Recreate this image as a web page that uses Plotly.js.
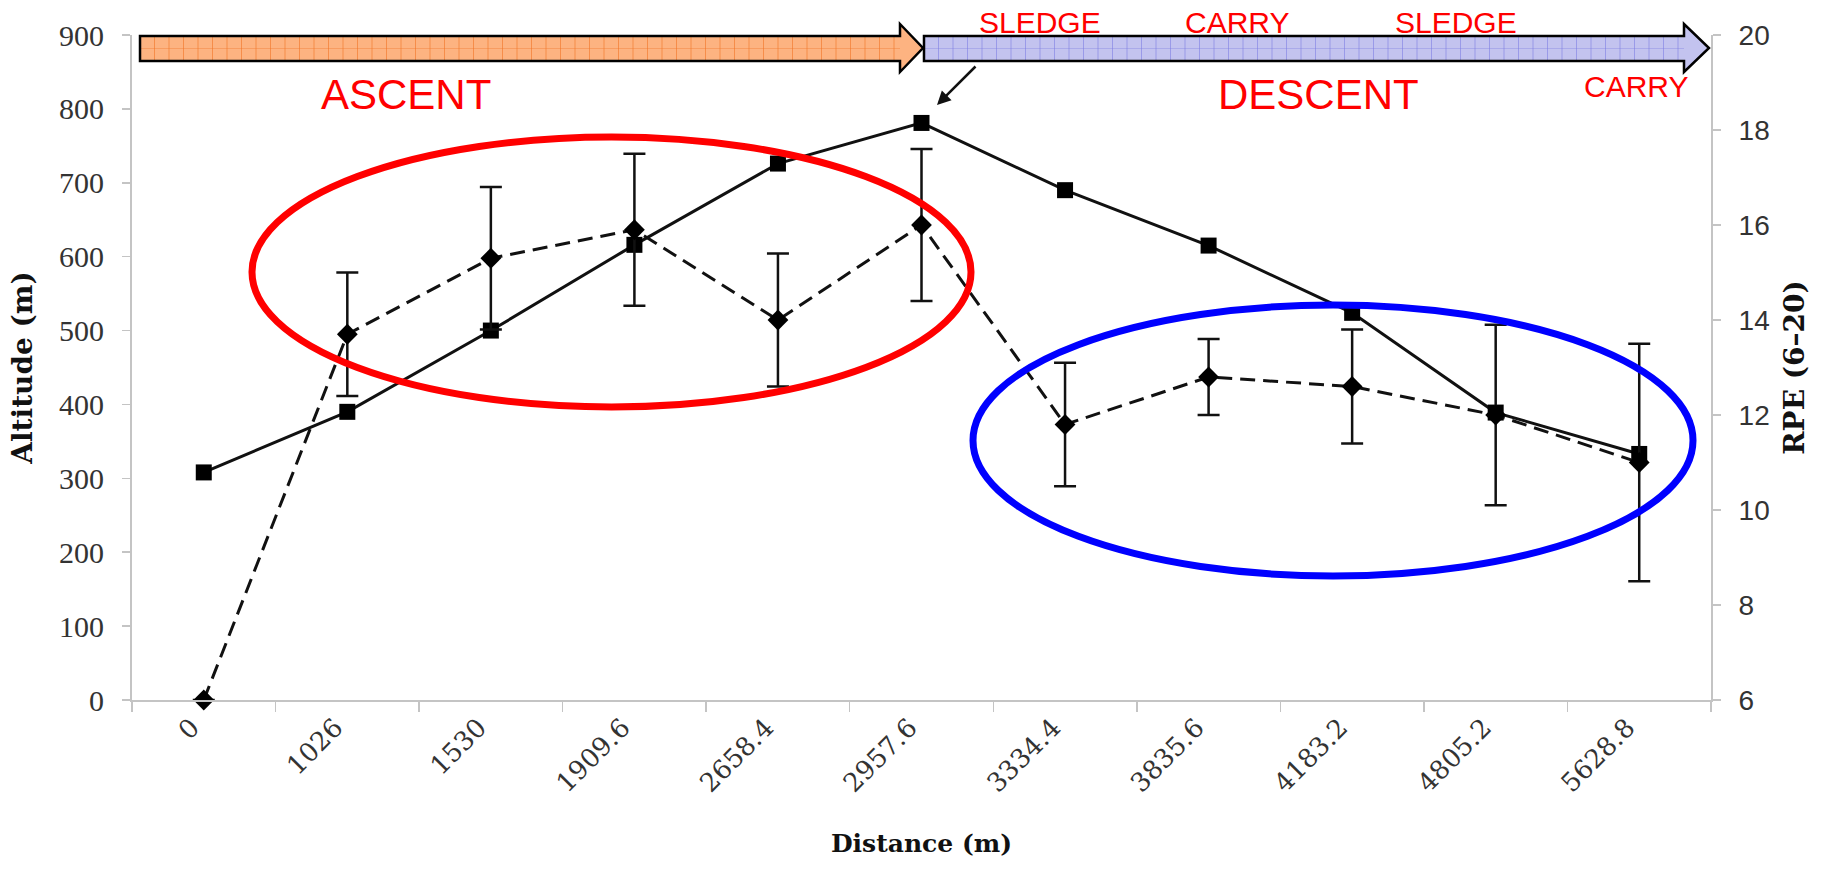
<!DOCTYPE html>
<html>
<head>
<meta charset="utf-8">
<script src="https://cdn.plot.ly/plotly-3.0.1.min.js"></script>
<style>html,body{margin:0;padding:0;background:#fff;}#chart{width:1827px;height:869px;}</style>
</head>
<body>
<div id="chart"></div>
<script>
// ---- data ----
const distanceLabels = ['0','1026','1530','1909.6','2658.4','2957.6','3334.4','3835.6','4183.2','4805.2','5628.8'];
const altitude = [308, 390, 500, 616, 726, 781, 690, 615, 524, 389, 333];
const rpe = [6, 13.7, 15.3, 15.9, 14.0, 16.0, 11.8, 12.8, 12.6, 12.0, 11.0];
const rpeErr = [0, 1.3, 1.5, 1.6, 1.4, 1.6, 1.3, 0.8, 1.2, 1.9, 2.5];
const phaseLabels = ['ASCENT', 'DESCENT'];
const modeLabels = ['SLEDGE', 'CARRY', 'SLEDGE', 'CARRY'];

// ---- geometry helpers (pixel -> paper) ----
const W = 1827, H = 869;
const L = 132, R = 1711, T = 35, B = 700;
const px = x => (x - L) / (R - L);
const py = y => (B - y) / (B - T);

const traces = [
  {
    x: distanceLabels, y: altitude, type: 'scatter', mode: 'lines+markers',
    name: 'Altitude', yaxis: 'y',
    line: {color: '#111', width: 3},
    marker: {symbol: 'square', size: 16, color: '#000'},
    cliponaxis: false
  },
  {
    x: distanceLabels, y: rpe, type: 'scatter', mode: 'lines+markers',
    name: 'RPE', yaxis: 'y2',
    line: {color: '#111', width: 3, dash: '15px,8px'},
    marker: {symbol: 'diamond', size: 16, color: '#000'},
    error_y: {type: 'data', array: rpeErr, visible: true, color: '#111', thickness: 2.5, width: 11},
    cliponaxis: false
  }
];

// ---- decorative arrows at the top ----
function arrowPath(x0, xh, xt, yb1, yb2, yh1, yh2) {
  const ym = (yh1 + yh2) / 2;
  const pts = [[x0,yb1],[xh,yb1],[xh,yh1],[xt,ym],[xh,yh2],[xh,yb2],[x0,yb2]];
  return 'M ' + pts.map(p => px(p[0]).toFixed(5) + ',' + py(p[1]).toFixed(5)).join(' L ') + ' Z';
}
const shapes = [];
function addArrow(x0, xh, xt, fill, gridColor) {
  shapes.push({type: 'path', xref: 'paper', yref: 'paper', path: arrowPath(x0, xh, xt, 36, 61, 24, 72),
               fillcolor: fill, line: {color: 'rgba(0,0,0,0)', width: 0}, layer: 'above'});
  for (let gx = x0 + 14.5; gx < xh; gx += 14.5) {
    shapes.push({type: 'line', xref: 'paper', yref: 'paper', x0: px(gx), x1: px(gx), y0: py(37), y1: py(60),
                 line: {color: gridColor, width: 1}, layer: 'above'});
  }
  shapes.push({type: 'line', xref: 'paper', yref: 'paper', x0: px(x0), x1: px(xh), y0: py(48.5), y1: py(48.5),
               line: {color: gridColor, width: 0.6}, layer: 'above'});
  shapes.push({type: 'path', xref: 'paper', yref: 'paper', path: arrowPath(x0, xh, xt, 36, 61, 24, 72),
               fillcolor: 'rgba(0,0,0,0)', line: {color: '#000', width: 2.5}, layer: 'above'});
}
addArrow(140, 900, 923, '#FDB381', 'rgba(240,110,30,0.55)');
addArrow(924, 1684, 1709, '#C3C3EF', 'rgba(120,120,225,0.55)');

// ---- ellipses ----
shapes.push({type: 'circle', xref: 'paper', yref: 'paper', x0: px(252), x1: px(971), y0: py(407), y1: py(137),
             line: {color: '#FF0000', width: 7}, fillcolor: 'rgba(0,0,0,0)', layer: 'above'});
shapes.push({type: 'circle', xref: 'paper', yref: 'paper', x0: px(973), x1: px(1693), y0: py(576), y1: py(305),
             line: {color: '#0000FF', width: 7}, fillcolor: 'rgba(0,0,0,0)', layer: 'above'});

const redFont = (s) => ({family: 'Liberation Sans, Arial, sans-serif', size: s, color: '#FF0000'});
const annotations = [
  {text: phaseLabels[0], x: px(406), y: py(94), font: redFont(42)},
  {text: phaseLabels[1], x: px(1318), y: py(94), font: redFont(42)},
  {text: modeLabels[0], x: px(1040), y: py(22), font: redFont(30)},
  {text: modeLabels[1], x: px(1237), y: py(22), font: redFont(30)},
  {text: modeLabels[2], x: px(1456), y: py(22), font: redFont(30)},
  {text: modeLabels[3], x: px(1636), y: py(87), font: redFont(30)}
].map(a => Object.assign({xref: 'paper', yref: 'paper', showarrow: false, xanchor: 'center', yanchor: 'middle'}, a));
annotations.push({xref: 'paper', yref: 'paper', x: px(937), y: py(105), ax: 40, ay: -40, text: '',
                  showarrow: true, arrowhead: 2, arrowsize: 1.1, arrowwidth: 2.5, arrowcolor: '#111', standoff: 0});

const serifTitle = (s) => ({family: 'DejaVu Serif, Liberation Serif, serif', size: s, color: '#111', weight: 'bold'});
const axisLine = '#c4c4c4';

const layout = {
  width: W, height: H,
  margin: {l: L, r: W - R, t: T, b: H - B, pad: 0},
  paper_bgcolor: '#fff', plot_bgcolor: '#fff',
  showlegend: false,
  xaxis: {
    type: 'category', range: [-0.5, 10.5], tickson: 'boundaries',
    showgrid: false, zeroline: false, showline: true, linecolor: axisLine, linewidth: 2,
    ticks: 'outside', ticklen: 10, tickcolor: axisLine, tickwidth: 1.5, ticklabelshift: -12,
    tickangle: -45, tickfont: {family: 'DejaVu Serif, Liberation Serif, serif', size: 26, color: '#333'},
    title: {text: 'Distance (m)', font: serifTitle(25), standoff: 38}
  },
  yaxis: {
    range: [0, 900], dtick: 100, showgrid: false, zeroline: false,
    showline: true, linecolor: axisLine, linewidth: 2,
    ticks: 'outside', ticklen: 8, tickcolor: axisLine, tickwidth: 1.5, ticklabelstandoff: 12,
    tickfont: {family: 'Liberation Serif, Times New Roman, serif', size: 30, color: '#333'},
    title: {text: 'Altitude (m)', font: serifTitle(28), standoff: 18}
  },
  yaxis2: {
    range: [6, 20], dtick: 2, overlaying: 'y', side: 'right', anchor: 'x',
    showgrid: false, zeroline: false, showline: true, linecolor: axisLine, linewidth: 2,
    ticks: 'outside', ticklen: 8, tickcolor: axisLine, tickwidth: 1.5, ticklabelstandoff: 12,
    tickfont: {family: 'Liberation Sans, Arial, sans-serif', size: 28, color: '#333'},
    title: {text: 'RPE (6–20)', font: serifTitle(28), standoff: 16}
  },
  shapes: shapes,
  annotations: annotations
};

Plotly.newPlot('chart', traces, layout, {staticPlot: true, displayModeBar: false});
</script>
</body>
</html>
